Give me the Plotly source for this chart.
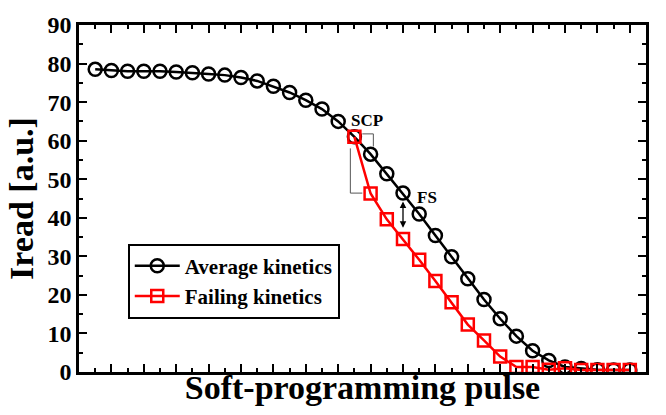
import plotly.graph_objects as go

pulse = list(range(34))
avg_kinetics = [78.5, 78.2, 78.0, 78.0, 78.0, 77.8, 77.6, 77.3, 77.0, 76.4,
                75.5, 74.1, 72.5, 70.5, 68.2, 65.0, 61.0, 56.5, 51.4, 46.4,
                41.0, 35.4, 29.9, 24.2, 18.8, 13.8, 9.3, 5.5, 3.0, 1.3,
                0.9, 0.6, 0.5, 0.5]
fail_pulse = list(range(16, 34))
fail_kinetics = [61.0, 46.3, 39.6, 34.5, 29.1, 23.6, 18.1, 12.3, 8.2, 4.0,
                 1.3, 1.3, 0.6, 1.0, 0.5, 0.5, 0.5, 0.5]

font = "Liberation Serif, Times New Roman, serif"

fig = go.Figure()
fig.add_trace(go.Scatter(
    x=pulse, y=avg_kinetics, mode="lines+markers", name="Average kinetics",
    line=dict(color="black", width=2.5),
    marker=dict(symbol="circle-open", size=13, color="black", line=dict(width=2.5)),
))
fig.add_trace(go.Scatter(
    x=fail_pulse, y=fail_kinetics, mode="lines+markers", name="Failing kinetics",
    line=dict(color="#ff0000", width=2.5),
    marker=dict(symbol="square-open", size=12, color="#ff0000", line=dict(width=2.5)),
))

gray = "#555555"
# SCP brackets
fig.add_shape(type="path", path="M 16.49 61.76 L 17.17 61.76 L 17.17 58.5",
              line=dict(color=gray, width=1))
fig.add_shape(type="path", path="M 15.75 58.0 L 15.75 46.4 L 16.49 46.4",
              line=dict(color=gray, width=1))
fig.add_annotation(x=16.8, y=65.3, text="SCP", showarrow=False,
                   font=dict(family=font, size=17, color="black", weight="bold"))
# FS double arrow
fig.add_annotation(x=19.0, y=44.2, ax=19.0, ay=37.0, axref="x", ayref="y",
                   text="", showarrow=True, arrowhead=2, arrowside="end+start",
                   arrowsize=1, arrowwidth=1.3, arrowcolor="black")
fig.add_annotation(x=20.5, y=45.3, text="FS", showarrow=False,
                   font=dict(family=font, size=17, color="black", weight="bold"))

axis_common = dict(
    showline=True, linecolor="black", linewidth=2.5, mirror="allticks",
    ticks="inside", tickcolor="black", tickwidth=2, showgrid=False, zeroline=False,
)

fig.update_layout(
    width=666, height=415,
    margin=dict(l=79, r=20, t=15, b=43),
    paper_bgcolor="white", plot_bgcolor="white",
    font=dict(family=font, color="black"),
    showlegend=True,
    legend=dict(x=0.086, y=0.37, xanchor="left", yanchor="top",
                bordercolor="black", borderwidth=2, bgcolor="white",
                font=dict(family=font, size=21, color="black", weight="bold"),
                tracegroupgap=0, itemwidth=45),
    xaxis=dict(range=[-1, 34], showticklabels=False, tick0=-1, dtick=2, ticklen=8,
               minor=dict(ticks="inside", dtick=1, tick0=0, ticklen=4, tickcolor="black", tickwidth=2),
               title=dict(text="Soft-programming pulse",
                          font=dict(family=font, size=34, weight="bold"), standoff=2),
               **axis_common),
    yaxis=dict(range=[0, 90], dtick=10, ticklen=8,
               minor=dict(ticks="inside", dtick=5, ticklen=4, tickcolor="black", tickwidth=2),
               tickfont=dict(family=font, size=24, weight="bold"),
               title=dict(text="Iread [a.u.]",
                          font=dict(family=font, size=34, weight="bold"), standoff=4),
               **axis_common),
)

fig.write_html("out.html")
